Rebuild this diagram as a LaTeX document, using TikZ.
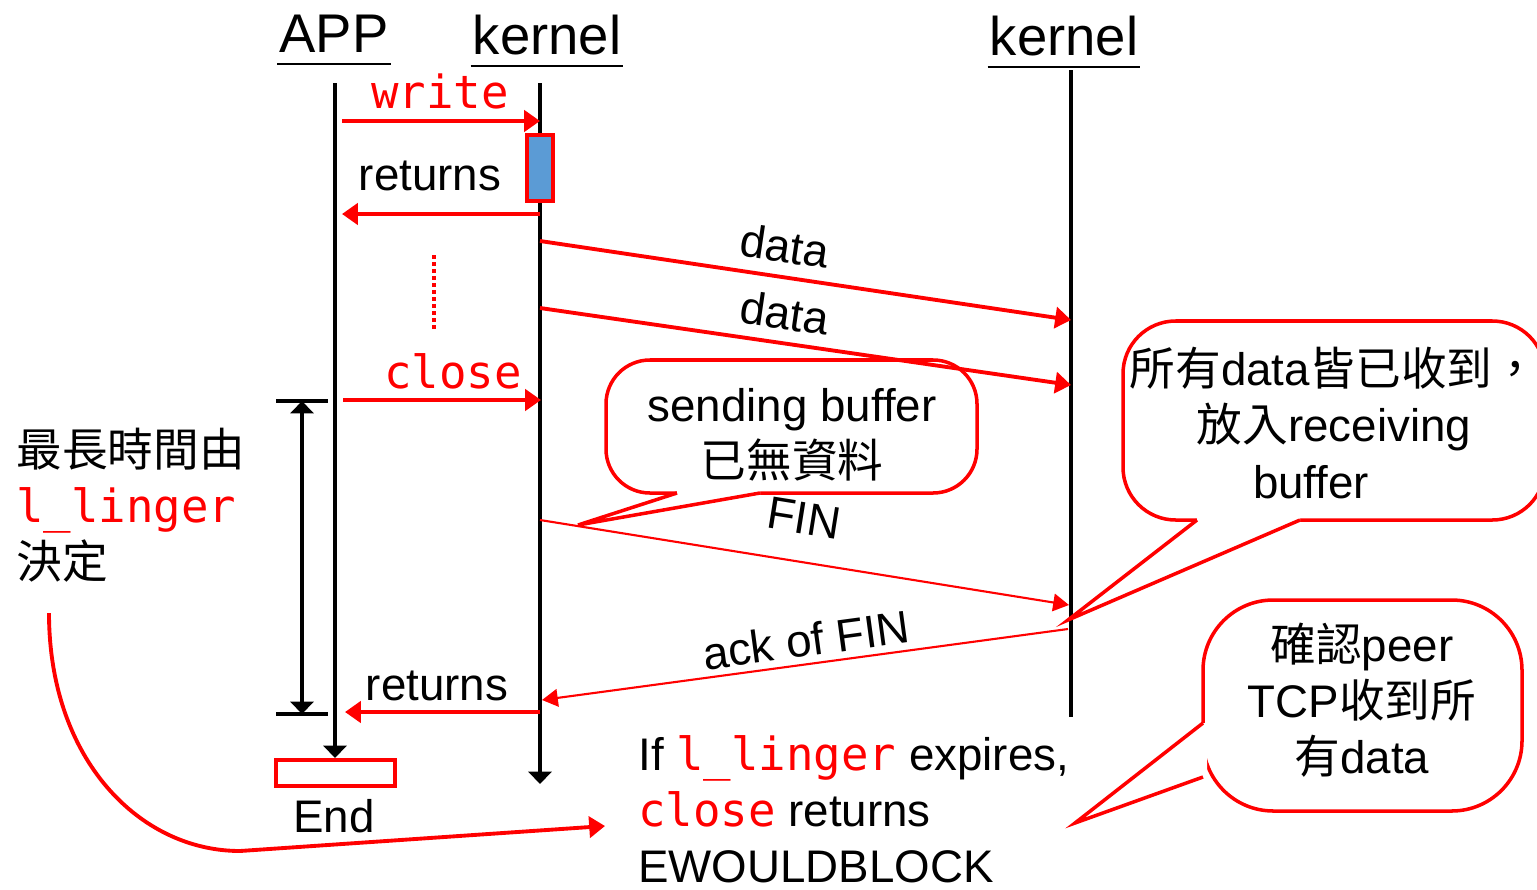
\documentclass[tikz,border=0pt]{standalone}
\usepackage{fontspec}
\setmainfont{Liberation Sans}
\setmonofont{DejaVu Sans Mono}
\newfontfamily\cjk{Noto Sans CJK TC}
\usetikzlibrary{arrows.meta}
\definecolor{bufblue}{RGB}{91,155,213}
\newcommand{\redcode}[1]{\textcolor{red}{\ttfamily #1}}

\begin{document}
\begin{tikzpicture}[x=0.02cm, y=-0.02cm,
    font=\fontsize{26}{32}\selectfont,
    head/.style={font=\fontsize{31}{36}\selectfont, anchor=base, inner xsep=1pt, inner ysep=6.8pt, text depth=0pt},
    rule/.style={line width=1.3pt},
    life/.style={line width=2.3pt},
    tip/.style={-{Triangle[length=7pt,width=13pt]}},
    msg/.style={red, line width=2.2pt, -{Triangle[length=9pt,width=12pt]}},
    thinmsg/.style={red, line width=1.2pt, -{Triangle[length=9pt,width=10pt]}},
    bubble/.style={draw=red, fill=white, line width=2pt},
    lbl/.style={anchor=base}]
  \clip (0,0) rectangle (1537,889);
  % heads
  \node[head] (app) at (334,52) {APP};
  \node[head] (kernel) at (547,54) {kernel};
  \node[head] (peer) at (1064,55) {kernel};
  \foreach \h in {app,kernel,peer}
    \draw[rule] (\h.south west) -- (\h.south east);
  % life lines
  \coordinate (appTop) at (335,83);
  \coordinate (appBot) at (335,758);
  \coordinate (kerTop) at (540,83);
  \coordinate (kerBot) at (540,784);
  \coordinate (peerTop) at (1071,70);
  \coordinate (peerBot) at (1071,717);
  \draw[life, tip] (appTop) -- (appBot);
  \draw[life, tip] (kerTop) -- (kerBot);
  \draw[life] (peerTop) -- (peerBot);
  % bubbles
  \draw[bubble, rounded corners=25] (606,360) rectangle (977,493);
  \fill[white] (677,489) -- (677,495) -- (578,525) -- (760,495) -- (760,489) -- cycle;
  \draw[bubble, fill=none] (677,493) -- (578,525) -- (760,493);
  \node (sendNote) at (792,435) [align=center] {sending buffer\\{\cjk 已無資料}};
  \draw[bubble, rounded corners=30] (1123,321) rectangle (1545,520);
  \fill[white] (1197,516) -- (1197,522) -- (1068,620) -- (1300,522) -- (1300,516) -- cycle;
  \draw[bubble, fill=none] (1197,520) -- (1068,620) -- (1300,520);
  \node (recvNote) at (1334,423) [align=center]
    {{\cjk 所有}data{\cjk 皆已收到，}\\{\cjk 放入}receiving\hspace*{0.92cm}\\buffer\hspace*{0.92cm}};
  \draw[bubble, rounded corners=40] (1203,600) rectangle (1522,811);
  \fill[white] (1207,723) -- (1201,723) -- (1075,823) -- (1201,777) -- (1207,777) -- cycle;
  \draw[bubble, fill=none] (1203,723) -- (1075,823) -- (1203,777);
  \node (peerNote) at (1362,700) [align=center]
    {{\cjk 確認}peer\\TCP{\cjk 收到所}\\{\cjk 有}data};
  % messages
  \path (342,121) coordinate (writeA) (540,121) coordinate (writeK)
        (540,214) coordinate (ret1K) (342,214) coordinate (ret1A)
        (540,241) coordinate (data1K) (1071,320) coordinate (data1P)
        (540,308) coordinate (data2K) (1071,385) coordinate (data2P)
        (343,400) coordinate (closeA) (541,400) coordinate (closeK)
        (540,520) coordinate (finK) (1069,605) coordinate (finP)
        (1068,629) coordinate (ackP) (542,700) coordinate (ackK)
        (540,712) coordinate (ret2K) (345,712) coordinate (ret2A);
  \draw[msg] (writeA) -- (writeK);
  \node[lbl, red] (writeLbl) at (440,108) {\ttfamily write};
  \node[draw=red, fill=bufblue, line width=2.2pt, minimum width=0.52cm, minimum height=1.32cm, inner sep=0pt] (buf) at (540,168) {};
  \draw[msg] (ret1K) -- (ret1A);
  \node[lbl] (ret1Lbl) at (430,190) {returns};
  \draw[msg] (data1K) -- (data1P);
  \node[rotate=-8.5] (data1Lbl) at (785,246) {data};
  \draw[msg] (data2K) -- (data2P);
  \node[rotate=-8.3] (data2Lbl) at (785,313) {data};
  \draw[red, line width=2.2pt, dash pattern=on 2.3pt off 1.7pt] (434,255) coordinate (dotTop) -- (434,330) coordinate (dotBot);
  \draw[msg] (closeA) -- (closeK);
  \node[lbl, red] (closeLbl) at (453,388) {\ttfamily close};
  \draw[thinmsg] (finK) -- (finP);
  \node[rotate=-9.1] (finLbl) at (804,518) {FIN};
  \draw[thinmsg] (ackP) -- (ackK);
  \node[rotate=7.7] (ackLbl) at (806,640) {ack of FIN};
  \draw[msg] (ret2K) -- (ret2A);
  \node[lbl] (ret2Lbl) at (437,700) {returns};
  % linger span
  \coordinate (dimTop) at (302,401);
  \coordinate (dimBot) at (302,714);
  \draw[life, {Triangle[length=7pt,width=13pt]}-{Triangle[length=7pt,width=13pt]}] (dimTop) -- (dimBot);
  \draw[life] (276,401) -- (328,401) (276,714) -- (328,714);
  \node[draw=red, line width=2.2pt, minimum width=2.38cm, minimum height=0.52cm, inner sep=0pt] (endBox) at (335.5,773) {};
  \node[lbl] (endLbl) at (334,832) {End};
  % notes
  \node[anchor=west, align=left, inner xsep=0pt] (lingerNote) at (16,505)
    {{\cjk 最長時間由}\\\redcode{l\_linger}\\{\cjk 決定}};
  \node[anchor=west, align=left, inner xsep=0pt] (expireNote) at (638,809)
    {If \redcode{l\_linger} expires,\\\redcode{close} returns\\EWOULDBLOCK};
  \coordinate (lingerFrom) at (49,613);
  \coordinate (lingerTo) at (605,826);
  \draw[msg] (lingerFrom) .. controls (49,760) and (140,851) .. (240,851) -- (lingerTo);
\end{tikzpicture}
\end{document}
